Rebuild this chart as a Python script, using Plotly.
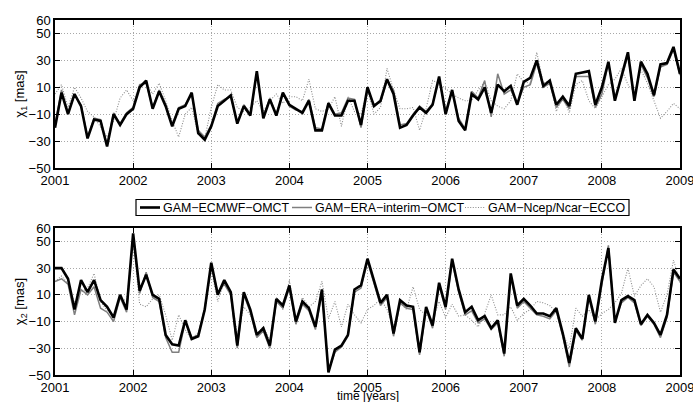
import numpy as np
import plotly.graph_objects as go

# monthly epochs 2001.0 .. 2009.0
years = [2001, 2002, 2003, 2004, 2005, 2006, 2007, 2008, 2009]
n_months = 97
t = [2001 + i / 12 for i in range(n_months)]

yticks = [-50, -30, -10, 10, 30, 50, 60]

chi1_ecmwf = [-20, 6, -10, 5, -4, -28, -14, -15, -34, -10, -18, -10, -6, 10, 15, -6, 7, -4, -19, -6,
              -4, 6, -24, -29, -19, -4, 0, 4, -17, -4, -11, 22, -13, 1, -11, 6, -3, -6, -9, 0,
              -22, -22, -2, -11, -11, 0, 0, -18, 10, -4, 0, 16, 5, -20, -18, -11, -5, -9, -3, 18,
              -10, 8, -15, -22, 5, 1, 10, -9, 12, 7, 11, -3, 14, 17, 30, 11, 15, -3, 3, -4,
              20, 21, 22, -3, 10, 29, 0, 18, 36, 0, 29, 20, 4, 27, 28, 40, 20]
chi1_era = [-18, 8, -9, 4, -3, -27, -13, -14, -33, -9, -17, -9, -5, 12, 13, -5, 8, -3, -18, -5,
            -3, 5, -22, -27, -18, -2, 1, 3, -16, -3, -10, 20, -12, 2, -10, 5, -4, -7, -8, 1,
            -20, -21, -1, -10, -9, 2, 1, -20, 8, -3, -1, 15, 8, -18, -17, -10, -4, -8, -2, 16,
            -8, 7, -13, -21, 7, 2, 15, -12, 20, 5, 8, -2, 10, 12, 28, 10, 13, -5, 1, -6,
            18, 18, 18, -5, 5, 28, 3, 16, 34, 2, 27, 17, 3, 25, 27, 38, 19]
chi1_ncep = [5, 12, -5, 10, 2, -8, -12, -20, -27, -15, 2, 8, 0, 10, 13, 5, 13, 0, -15, -27,
             -10, -5, -25, -28, -5, 12, 8, 8, -5, -8, -5, 0, -8, 0, 5, -2, 3, 3, 0, 16,
             -6, -8, -6, 3, -19, 3, -8, -10, 8, -10, -5, 24, 8, -6, -6, -5, -22, -6, 15, 13,
             9, 5, 2, 0, 0, 8, 14, 0, -4, -6, 0, 20, 14, 13, 36, 13, 15, -8, 3, -9,
             12, 15, 0, -6, 3, 12, 16, 24, 12, 6, 23, 13, 0, -13, -8, -2, -6]

chi2_ecmwf = [30, 30, 22, -1, 21, 12, 21, 6, 1, -7, 10, -1, 56, 13, 25, 10, 7, -20, -27, -28,
              -9, -23, -21, -1, 34, 10, 21, 12, -28, 12, -1, -20, -15, -28, 7, 2, 17, -10, 5, 0,
              -14, 14, -48, -31, -28, -20, 14, 17, 37, 21, 4, 10, -19, 6, 2, 1, -33, 1, -13, 19,
              1, 37, 14, -3, 1, -9, -6, -15, -9, -34, 26, 2, 7, 2, -4, -4, -6, 0, -19, -41,
              -15, -23, 10, -10, 21, 45, -11, 6, 9, 6, -12, -5, -11, -20, -5, 29, 22]
chi2_era = [20, 22, 18, -5, 14, 10, 16, 0, -3, -10, 8, -3, 54, 11, 27, 8, 5, -22, -33, -33,
            -10, -22, -20, 0, 32, 12, 18, 10, -30, 10, -3, -22, -17, -30, 5, 0, 15, -12, 3, -2,
            -16, 12, -47, -33, -29, -21, 12, 15, 35, 19, 2, 8, -21, 4, 0, -1, -35, -1, -15, 17,
            -1, 35, 12, -5, -2, -11, -8, -16, -11, -36, 24, 0, 5, 0, -5, -6, -8, -2, -21, -44,
            -17, -24, 8, -12, 19, 47, -10, 4, 8, 4, -13, -6, -12, -22, -7, 27, 20]
chi2_ncep = [20, 24, 18, 4, 12, 15, 26, 5, -2, -5, 8, 5, 51, 3, 1, 7, 10, -5, -24, -5,
             -16, -24, -18, -3, 29, 5, 20, 10, -20, 1, -5, -19, -14, -24, 8, -1, 21, -12, 8, 1,
             5, 20, -8, 5, -14, 3, -5, -11, -1, 2, 7, -1, -14, 4, -1, 16, -1, -5, -9, 5,
             -7, 3, -6, -5, -9, -14, -4, 10, -5, -5, 1, -9, -4, -1, 5, 4, 2, -3, -19, -30,
             0, -6, -1, -9, -4, -1, 4, 11, 30, 9, 17, 22, 16, -3, 10, 36, 19]

names = ["GAM\u2212ECMWF\u2212OMCT", "GAM\u2212ERA\u2212interim\u2212OMCT", "GAM\u2212Ncep/Ncar\u2212ECCO"]
FONT = "Liberation Sans, Arial, Helvetica, sans-serif"

STYLES = [dict(color="#000000", width=2.6),
          dict(color="#7f7f7f", width=1.5),
          dict(color="#8c8c8c", width=1.1, dash="1px,1.6px")]

# figure geometry (pixels)
W, H = 693, 402
ML, MR, MT, MB = 55, 13, 20, 27
PW, PH = W - ML - MR, H - MT - MB


def px(xp):
    return (xp - ML) / PW


def py(yp):
    return (H - MB - yp) / PH


fig = go.Figure()


def add_panel(vals, xa, ya):
    for k in (2, 1, 0):
        fig.add_trace(go.Scatter(x=t, y=vals[k], mode="lines", name=names[k],
                                 line=STYLES[k], showlegend=False, xaxis=xa, yaxis=ya))


add_panel((chi1_ecmwf, chi1_era, chi1_ncep), "x", "y")
add_panel((chi2_ecmwf, chi2_era, chi2_ncep), "x2", "y2")

xcommon = dict(range=[2001, 2009], tickvals=years, ticktext=[str(y) for y in years],
               ticks="inside", ticklen=5, tickcolor="black", showline=True, linecolor="black",
               linewidth=1.5, mirror="ticks", showgrid=True, gridcolor="#a8a8a8",
               griddash="1px,2px", gridwidth=1, zeroline=False, ticklabeloverflow="allow",
               automargin=False, tickfont=dict(size=13, color="black"))
ycommon = dict(range=[-50, 60], tickvals=yticks, ticks="inside", ticklen=5, tickcolor="black",
               showline=True, linecolor="black", linewidth=1.5, mirror="ticks", showgrid=True,
               gridcolor="#a8a8a8", griddash="1px,2px", gridwidth=1, zeroline=False,
               automargin=False, tickfont=dict(size=13, color="black"))

# manual legend box between the panels
leg_y = 207.5
shapes = [dict(type="rect", xref="paper", yref="paper", x0=px(136), x1=px(629),
               y0=py(215.5), y1=py(199.5), line=dict(color="black", width=1.2),
               fillcolor="white", layer="above")]
annotations = []
for k, (x0, xt) in enumerate([(140, 162), (292, 314), (465, 487)]):
    st = STYLES[k]
    shapes.append(dict(type="line", xref="paper", yref="paper", x0=px(x0), x1=px(x0 + 20),
                       y0=py(leg_y), y1=py(leg_y),
                       line=dict(color=st["color"], width=st["width"],
                                 dash=st.get("dash", "solid")), layer="above"))
    annotations.append(dict(text=names[k], xref="paper", yref="paper", x=px(xt), y=py(leg_y),
                            xanchor="left", yanchor="middle", showarrow=False,
                            font=dict(size=12.4, color="black", family=FONT), borderpad=0))

# x-axis title of the lower panel
annotations.append(dict(text="time [years]", xref="paper", yref="paper", x=0.5, y=py(396),
                        xanchor="center", yanchor="middle", showarrow=False,
                        font=dict(size=12, color="black", family=FONT), borderpad=0))

fig.update_layout(
    width=W, height=H,
    margin=dict(l=ML, r=MR, t=MT, b=MB),
    paper_bgcolor="white", plot_bgcolor="white",
    font=dict(family=FONT, size=13, color="black"),
    xaxis=dict(domain=[0, 1], anchor="y", **xcommon),
    yaxis=dict(domain=[py(168), 1], anchor="x",
               title=dict(text="\u03c7<sub>1</sub> [mas]", standoff=0, font=dict(size=13)), **ycommon),
    xaxis2=dict(domain=[0, 1], anchor="y2", **xcommon),
    yaxis2=dict(domain=[0, py(228)], anchor="x2",
                title=dict(text="\u03c7<sub>2</sub> [mas]", standoff=0, font=dict(size=13)), **ycommon),
    shapes=shapes,
    annotations=annotations,
    showlegend=False,
)

fig.write_html("out.html", config={"displayModeBar": False},
               post_script="document.body.style.margin='0';document.body.style.overflow='hidden';")
